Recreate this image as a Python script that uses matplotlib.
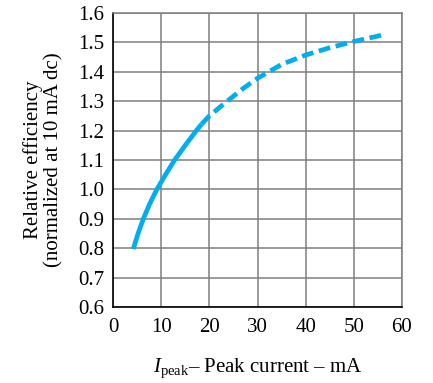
import numpy as np
import matplotlib
matplotlib.use('Agg')
import matplotlib.pyplot as plt

plt.rcParams['font.family'] = ['Liberation Serif', 'DejaVu Serif']
plt.rcParams['mathtext.fontset'] = 'custom'
plt.rcParams['mathtext.rm'] = 'Liberation Serif'
plt.rcParams['mathtext.it'] = 'Liberation Serif:italic'

# measured curve (solid part, then extrapolated dashed part)
i_solid = [4.2, 5.2, 6.3, 7.6, 9.1, 10.9, 12.8, 15.0, 17.3, 18.4]
eff_solid = [0.797, 0.85, 0.90, 0.95, 1.0, 1.05, 1.10, 1.15, 1.20, 1.222]
i_dash = [18.4, 20.0, 23.7, 27.0, 30.0, 35.0, 40.0, 45.0, 50.0, 56.2]
eff_dash = [1.222, 1.25, 1.30, 1.343, 1.378, 1.425, 1.457, 1.482, 1.503, 1.526]

xticks = [0, 10, 20, 30, 40, 50, 60]
yticks = [0.6, 0.7, 0.8, 0.9, 1.0, 1.1, 1.2, 1.3, 1.4, 1.5, 1.6]

blue = '#00AEEF'
grid = '#7f7f7f'

fig = plt.figure(figsize=(4.33, 3.83), dpi=100)
ax = fig.add_axes([113/433, 1 - 307/383, 289/433, 294/383])

ax.plot(i_solid, eff_solid, color=blue, lw=3.4, solid_capstyle='butt', zorder=3)
ax.plot(i_dash, eff_dash, color=blue, lw=3.4, dashes=(2.5, 1.2), dash_capstyle='butt', zorder=3)

ax.set_xlim(0, 60)
ax.set_ylim(0.6, 1.6)
ax.set_xticks(xticks)
ax.set_yticks(yticks)
ax.set_xticklabels([str(v) for v in xticks])
ax.set_yticklabels(['%.1f' % v for v in yticks])
ax.tick_params('both', length=0, labelsize=15)
ax.tick_params('x', pad=8)
ax.tick_params('y', pad=6)
ax.grid(True, color=grid, linewidth=1.1)
ax.set_axisbelow(True)
for s in ['top', 'right']:
    ax.spines[s].set_color(grid)
    ax.spines[s].set_linewidth(1.1)
for s in ['left', 'bottom']:
    ax.spines[s].set_color('k')
    ax.spines[s].set_linewidth(1.2)

ax.set_ylabel('Relative efficiency\n(normalized at 10 mA dc)', fontsize=15, labelpad=11, linespacing=1.05)
ax.set_xlabel(r'$I_{\mathrm{peak}}$– Peak current – mA', fontsize=15, labelpad=14)

fig.savefig('out.png', dpi=100)
